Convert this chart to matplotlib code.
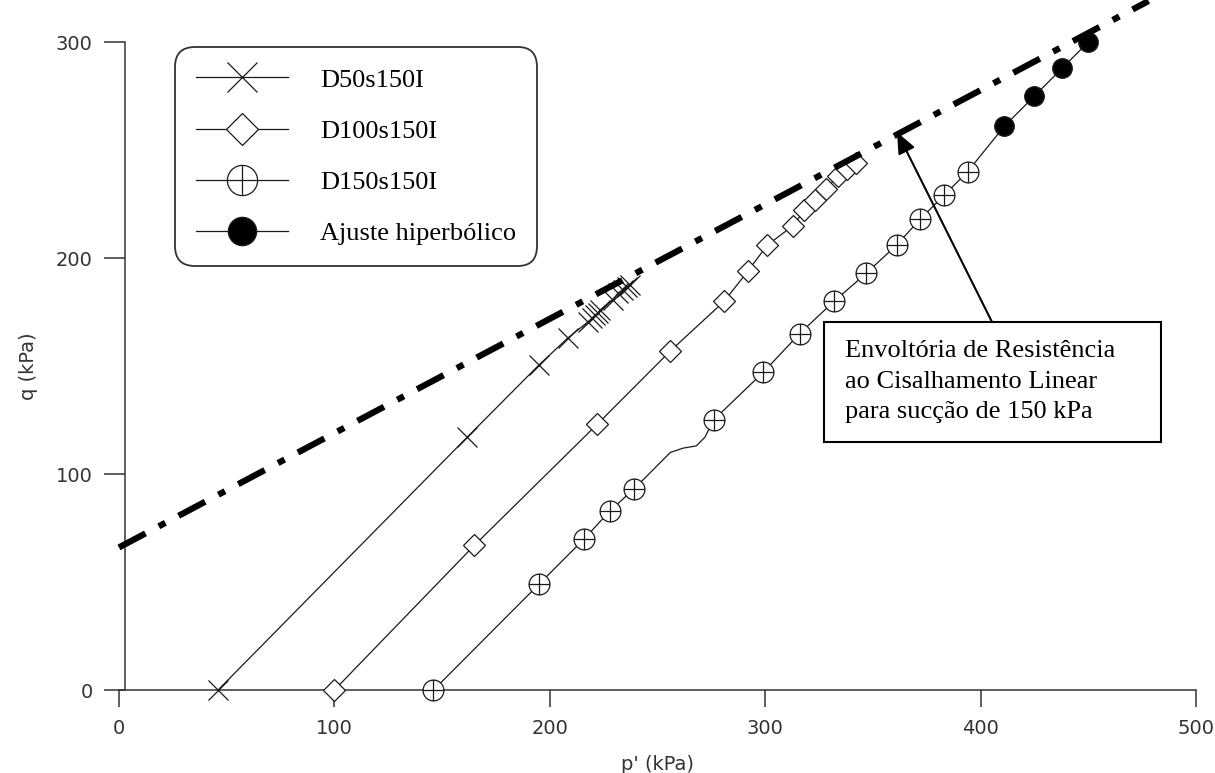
import numpy as np
import matplotlib
matplotlib.use("Agg")
import matplotlib.pyplot as plt
from matplotlib.path import Path
from matplotlib.patches import Rectangle
from matplotlib.lines import Line2D

# stress paths: p' (kPa), q (kPa)
d50_p = [46, 161.6, 195, 208.4, 217.7, 219.6, 221, 222.4, 223.3, 229.3,
         231.7, 234, 235.8, 237.2]
d50_q = [0, 117, 150.5, 163, 170.4, 172.2, 173.6, 174.5, 175.9, 180.6,
         183.8, 185.2, 186.6, 187.5]

d100_p = [100, 165, 222, 256, 281, 292, 301, 313, 318, 323, 328, 334, 338, 342]
d100_q = [0, 67, 123, 157, 180, 194, 206, 215, 222, 227, 232, 238, 241, 244]

d150_p = [146, 195, 216, 228, 239, 276, 299, 316, 332, 347, 361, 372, 383, 394]
d150_q = [0, 49, 70, 83, 93, 125, 147, 165, 180, 193, 206, 218, 229, 240]
# measured path between the markers (small kink near p' = 260)
d150_path_p = [146, 195, 216, 228, 239, 248, 256, 262, 268, 272, 276, 299,
               316, 332, 347, 361, 372, 383, 394]
d150_path_q = [0, 49, 70, 83, 93, 102, 110, 112, 113, 117, 125, 147,
               165, 180, 193, 206, 218, 229, 240]

hyp_p = [411, 425, 438, 450]
hyp_q = [261, 275, 288, 300]

# linear failure envelope for suction 150 kPa
env_p = [0, 478]
env_q = [66, 319]

W, H = 1215, 773
INK = "#1a1a1a"

fig = plt.figure(figsize=(W / 100, H / 100), dpi=100)
ax = fig.add_axes([119 / W, 1 - 690 / H, (1196 - 119) / W, (690 - 42) / H])

# circle with a plus inside
circ = Path.unit_circle()
circ_plus = Path(np.vstack([circ.vertices, [[-1, 0], [1, 0], [0, -1], [0, 1]]]),
                 np.concatenate([circ.codes, [Path.MOVETO, Path.LINETO,
                                              Path.MOVETO, Path.LINETO]]))

line_kw = dict(color=INK, lw=0.9, clip_on=False, zorder=3)
sty50 = dict(marker="x", ms=15, mew=0.9, mec=INK)
sty100 = dict(marker="D", ms=11, mew=0.9, mec=INK, mfc="white")
sty150 = dict(marker=circ_plus, ms=15, mew=0.9, mec=INK, mfc="white")
styhyp = dict(marker="o", ms=14, mec=INK, mfc="black")

ax.plot(d50_p, d50_q, **sty50, **line_kw)
ax.plot(d100_p, d100_q, **sty100, **line_kw)
ax.plot(d150_path_p + hyp_p, d150_path_q + hyp_q, **line_kw)
ax.plot(d150_p, d150_q, ls="none", clip_on=False, zorder=3, **sty150)
ax.plot(hyp_p, hyp_q, ls="none", clip_on=False, zorder=3, **styhyp)

ax.plot(env_p, env_q, color="black", lw=4.5, dashes=(4.8, 2.4, 1.2, 2.4),
        dash_capstyle="butt", clip_on=False, zorder=4)

ax.set_xlim(0, 500)
ax.set_ylim(0, 300)
ax.set_xticks([0, 100, 200, 300, 400, 500])
ax.set_yticks([0, 100, 200, 300])
for s in ("top", "right"):
    ax.spines[s].set_visible(False)
ax.spines["left"].set_position(("data", 3))
for s in ("left", "bottom"):
    ax.spines[s].set_linewidth(1.1)
    ax.spines[s].set_color("#333333")
ax.tick_params(axis="y", direction="out", length=15, width=1.1, pad=8.6,
               labelsize=14, colors="#333333")
ax.tick_params(axis="x", direction="out", length=12, width=1.1, pad=9,
               labelsize=14, colors="#333333")
ax.set_xlabel("p' (kPa)", fontsize=14, color="#333333", labelpad=12)
ax.set_ylabel("q (kPa)", fontsize=14, color="#333333", labelpad=13)

handles = [Line2D([], [], color=INK, lw=0.9, **sty50),
           Line2D([], [], color=INK, lw=0.9, **sty100),
           Line2D([], [], color=INK, lw=0.9, **sty150),
           Line2D([], [], color=INK, lw=0.9, **styhyp)]
labels = ["D50s150I", "D100s150I", "D150s150I", "Ajuste hiperbólico"]
leg = ax.legend(handles, labels, loc="upper left",
                bbox_to_anchor=(175 / W, 1 - 47 / H),
                bbox_transform=fig.transFigure, borderaxespad=0,
                prop={"family": "Liberation Serif", "size": 19},
                markerscale=1.45, handlelength=3.5, handletextpad=1.2,
                labelspacing=1.05, borderpad=0.8, fancybox=True,
                framealpha=1, edgecolor="#333333")
leg.get_frame().set_linewidth(1.3)
leg.get_frame().set_boxstyle("round,pad=0,rounding_size=0.75")

# annotation box and arrow
fig.add_artist(Rectangle((824 / W, 1 - 442 / H), (1161 - 824) / W, 120 / H,
                         transform=fig.transFigure, fc="white", ec="black",
                         lw=1.5, zorder=5))
fig.text(845 / W, 1 - 382 / H,
         "Envoltória de Resistência\nao Cisalhamento Linear\npara sucção de 150 kPa",
         family="Liberation Serif", fontsize=19, ha="left", va="center",
         linespacing=1.5, zorder=6)
ax.annotate("", xy=(361.2, 258.3), xycoords="data",
            xytext=(992 / W, 1 - 322 / H), textcoords="figure fraction",
            arrowprops=dict(arrowstyle="-|>,head_length=1.3,head_width=0.55",
                            color="black", lw=1.5, shrinkA=0, shrinkB=0),
            annotation_clip=False, zorder=5)

fig.savefig("out.png", dpi=100)
